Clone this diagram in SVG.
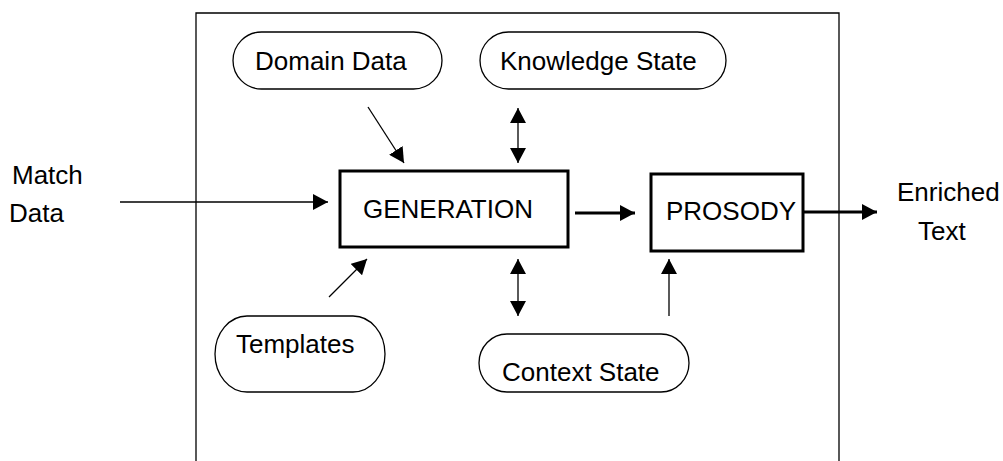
<svg xmlns="http://www.w3.org/2000/svg" width="1003" height="461" viewBox="0 0 1003 461">
<style>
text{font-family:"Liberation Sans",Arial,sans-serif;font-size:26px;fill:#000}
.pill{fill:#fff;stroke:#000;stroke-width:1.3}
.box{fill:#fff;stroke:#000;stroke-width:3}
.thin{fill:none;stroke:#000;stroke-width:1.3}
.thick{fill:none;stroke:#000;stroke-width:3}
</style>
<defs>
<marker id="ah" markerUnits="userSpaceOnUse" markerWidth="16" markerHeight="16" viewBox="0 0 16 16" refX="15" refY="8" orient="auto-start-reverse">
<path d="M0,0 L15,8 L0,16 z" fill="#000"/>
</marker>
</defs>
<rect width="1003" height="461" fill="#fff"/>
<path id="frame" d="M196,461 V13 H839 V461" fill="none" stroke="#000" stroke-width="1.3"/>
<g id="connectors">
<line class="thin" x1="120" y1="202" x2="328" y2="202" marker-end="url(#ah)"/>
<line class="thin" x1="368" y1="107" x2="404" y2="163" marker-end="url(#ah)"/>
<line class="thin" x1="518" y1="108" x2="518" y2="163" marker-start="url(#ah)" marker-end="url(#ah)"/>
<line class="thin" x1="329" y1="297" x2="367" y2="259" marker-end="url(#ah)"/>
<line class="thin" x1="518" y1="259" x2="518" y2="316" marker-start="url(#ah)" marker-end="url(#ah)"/>
<line class="thin" x1="669" y1="316" x2="669" y2="259" marker-end="url(#ah)"/>
<line class="thick" x1="575" y1="213" x2="635" y2="213" marker-end="url(#ah)"/>
<line class="thick" x1="803" y1="212" x2="877" y2="212" marker-end="url(#ah)"/>
</g>
<g id="domain-data">
<rect class="pill" x="233" y="32" width="209" height="57" rx="28.5"/>
<text x="255" y="70">Domain Data</text>
</g>
<g id="knowledge-state">
<rect class="pill" x="480" y="32" width="246" height="57" rx="28.5"/>
<text x="500" y="70">Knowledge State</text>
</g>
<g id="generation">
<rect class="box" x="340" y="171" width="228" height="76"/>
<text x="363" y="218">GENERATION</text>
</g>
<g id="prosody">
<rect class="box" x="651" y="174" width="152" height="77"/>
<text x="666" y="220">PROSODY</text>
</g>
<g id="templates">
<rect class="pill" x="215" y="316" width="170" height="76" rx="32" ry="38"/>
<text x="236" y="353">Templates</text>
</g>
<g id="context-state">
<rect class="pill" x="479" y="334" width="210" height="58" rx="28" ry="29"/>
<text x="502" y="381">Context State</text>
</g>
<g id="match-data">
<text x="12" y="184">Match</text>
<text x="9" y="222">Data</text>
</g>
<g id="enriched-text">
<text x="897" y="201">Enriched</text>
<text x="918" y="240">Text</text>
</g>
</svg>
